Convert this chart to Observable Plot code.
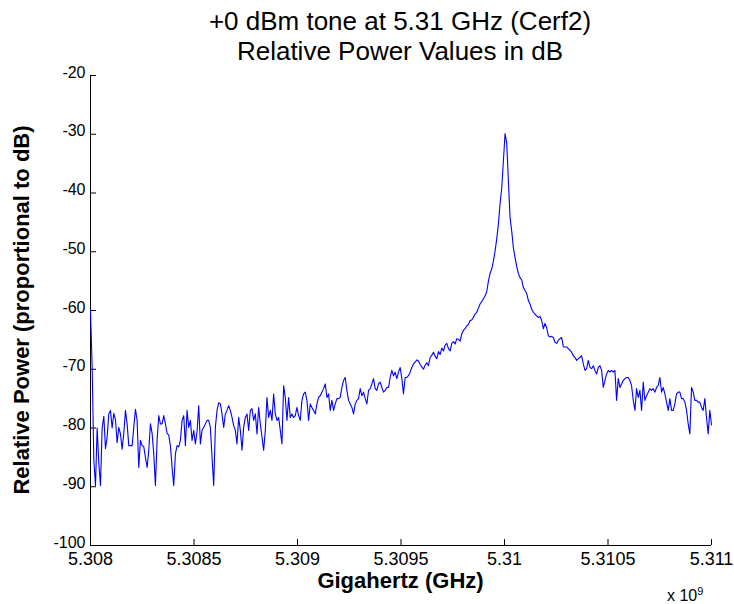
<!DOCTYPE html>
<html>
<head>
<meta charset="utf-8">
<script src="https://cdn.jsdelivr.net/npm/d3@7"></script>
<script src="https://cdn.jsdelivr.net/npm/@observablehq/plot@0.6"></script>
<style>
  html, body { margin: 0; padding: 0; background: #fff; }
  #wrap { position: relative; width: 734px; height: 604px; font-family: "Liberation Sans", Arial, sans-serif; color: #000; }
  .title { position: absolute; left: 0; width: 800px; text-align: center; font-size: 26px; line-height: 30px; white-space: nowrap; }
  .axlab { position: absolute; font-weight: bold; font-size: 22px; white-space: nowrap; text-align: center; }
  #ylab { left: -213px; top: 296px; width: 470px; height: 28px; line-height: 28px; transform: rotate(-90deg); }
  #xlab { left: 0; width: 801px; top: 567px; line-height: 28px; }
  #exp { position: absolute; left: 667px; top: 585px; font-size: 16px; white-space: nowrap; }
  #exp sup { font-size: 11px; vertical-align: 6px; }
</style>
</head>
<body>
<div id="wrap">
  <div id="chart"></div>
  <div class="title" style="top:6px">+0 dBm tone at 5.31 GHz (Cerf2)</div>
  <div class="title" style="top:36px">Relative Power Values in dB</div>
  <div class="axlab" id="ylab">Relative Power (proportional to dB)</div>
  <div class="axlab" id="xlab">Gigahertz (GHz)</div>
  <div id="exp">x 10<sup>9</sup></div>
</div>
<script>
// Frequency span (GHz) of the sweep
const freqStart = 5.308;
const freqEnd = 5.311;

// Relative power values (dB) read along the sweep, left to right
const powerDb = [
  -60, -69.7, -85.5, -89.8, -80, -86, -89.8, -80, -78, -83.5,
  -81.5, -77.6, -77, -80, -77.5, -78.6, -82.5, -79.9, -81, -83.6,
  -80.9, -77, -79.3, -83, -83, -83, -79.9, -76.8, -78.7, -86.7,
  -82.1, -83, -83.2, -85, -86.7, -83.8, -79.3, -80.9, -84.4, -89.8,
  -82.1, -77.9, -79.3, -79.3, -77.9, -79.3, -80.9, -81.2, -83, -86.7,
  -89.8, -84.4, -83, -83.2, -82.1, -78.7, -77.9, -83, -77, -79.9,
  -78.7,
  -82.1, -80.4, -82.7, -80.6, -76.2, -82.7, -80.4, -79.9, -79.3, -78.7,
  -78.7, -79.9, -85, -89.8, -79.9, -77, -75.7, -75.9, -77.6, -79.9,
  -77.6, -77, -76.2, -77, -78.2, -79.6, -80.4, -82.7, -78.2, -80.4,
  -83.8, -79.9, -78.2, -77.6, -80.4, -77, -76.7, -78.7, -77.6, -81,
  -76.5, -79.3, -81.5, -83.8, -80.4, -74.8, -78.2, -77, -78.7, -74.2,
  -77.6, -78.7, -78.2, -80.4, -82.7, -72.8, -74.8, -78.7, -74.8, -78.2,
  -77.6, -78.2, -77.9,
  -76.5, -77.9, -78.7, -75.3, -74.2, -73.9, -75.3, -78.7, -75.9, -76.5,
  -77, -77.6, -75.9, -74.8, -74.5, -73.9, -73.3, -72.5, -74.8, -74.2,
  -77, -75.3, -77, -75.9, -75, -75, -74.8, -73.1, -71.9, -71.4,
  -73.6, -75.3, -75.9, -76.5, -77.6, -75.9, -75.3, -75, -73.3, -74.5,
  -73.9, -75, -75.9, -73.6, -73.3, -72.5, -71.6, -73.3, -73.6, -72.5,
  -72.2, -73.1, -73.9, -73.6, -73.1, -73.1, -71.4, -70.2, -71.1, -70.5,
  -71.6, -70.5, -69.7, -71.6, -74.2, -71.4, -71.4, -71.1, -70.5, -69.7,
  -69.1,
  -68.8, -68.4, -68.6, -69.2, -69.6, -70, -69.3, -68.9, -69.4, -68,
  -67.6, -67.1, -67.8, -68.2, -67, -67.5, -66.4, -66.9, -65.9, -65.6,
  -66.5, -66.9, -65.6, -65.3, -65.7, -64.8, -64.9, -65.2, -64, -63.4,
  -63.1, -62.6, -62.4, -61.7, -61.6, -61.2, -60.6, -60.3, -59.6, -58.9,
  -58.5, -58, -57.5, -56.8, -55,
  -53.7, -52.9, -51.6, -49.9, -47.8, -45.3, -41.8, -39.2, -34.5, -29.9,
  -31.5, -37.9, -44.2, -46.5, -49.3, -51, -52.5, -53.7, -54.4, -54.8,
  -56.1, -56.6, -57.1, -58.3, -58.9, -59.8, -60.3, -60.6, -60.9, -61.2,
  -61, -61.7, -63.1, -62.2, -62.9, -64.3, -64.5, -64.4, -64.6, -65.4,
  -65.6,
  -65.1, -64.8, -64.6, -66.2, -66.2, -66.2, -66.5, -66.8, -67.1, -67.7,
  -68, -68.5, -68.2, -68, -67.7, -69.1, -70.2, -69.9, -68.5, -69.7,
  -69.9, -69.4, -70.2, -70.8, -69.7, -69.4, -70.2, -73.1, -71.9, -70.8,
  -70.2, -70.5, -70.2, -70.5, -70.2, -75.3, -71.6, -73.1, -72.5, -71.9,
  -71.6, -71.4, -71.4, -71.9,
  -72.8, -75.3, -77, -73.3, -74.8, -73.6, -77, -72.2, -75.3, -74.5,
  -73.9, -73.3, -73.6, -73.3, -73.9, -73.1, -72.8, -71.4, -73.9, -73.1,
  -74.2, -75.6, -77, -75, -77, -77, -75.9, -74.2, -73.9, -73.9,
  -75, -75, -75.6, -77, -79.3, -81, -73.1, -73.9, -75.3, -75.3,
  -75.6, -75.6, -76.5, -77, -75, -78.2, -81, -77, -79.5
];

// Axis ticks
const xTicks = [5.308, 5.3085, 5.309, 5.3095, 5.31, 5.3105, 5.311];
const xTickLabels = ["5.308", "5.3085", "5.309", "5.3095", "5.31", "5.3105", "5.311"];
const yTicks = [-100, -90, -80, -70, -60, -50, -40, -30, -20];

const n = powerDb.length;
const data = powerDb.map((v, i) => ({ f: freqStart + (freqEnd - freqStart) * i / (n - 1), db: v }));

const W = 734, H = 604, mL = 90, mR = 23, mT = 75, mB = 59;
const frameW = W - mL - mR, frameH = H - mT - mB;

const chart = Plot.plot({
  width: W,
  height: H,
  marginLeft: mL,
  marginRight: mR,
  marginTop: mT,
  marginBottom: mB,
  style: { fontFamily: '"Liberation Sans", Arial, sans-serif', background: "#fff", color: "#000", overflow: "visible" },
  x: { domain: [freqStart, freqEnd], axis: null },
  y: { domain: [-100, -20], axis: null },
  marks: [
    Plot.ruleX([freqStart], { stroke: "#000", strokeWidth: 1 }),
    Plot.ruleY([-100], { stroke: "#000", strokeWidth: 1 }),
    Plot.tickX(xTicks, { x: d => d, stroke: "#000", insetTop: frameH - 6 }),
    Plot.tickY(yTicks, { y: d => d, stroke: "#000", insetRight: frameW - 6 }),
    Plot.line(data, { x: "f", y: "db", stroke: "#0000ff", strokeWidth: 1.1 }),
    Plot.axisX({ ticks: xTicks, tickFormat: d => xTickLabels[xTicks.indexOf(d)], tickSize: 0, tickPadding: 7, fontSize: 18, label: null }),
    Plot.axisY({ ticks: yTicks, tickFormat: d => String(d), tickSize: 0, tickPadding: 5, fontSize: 16, dy: -3, label: null })
  ]
});
document.getElementById("chart").appendChild(chart);
</script>
</body>
</html>
